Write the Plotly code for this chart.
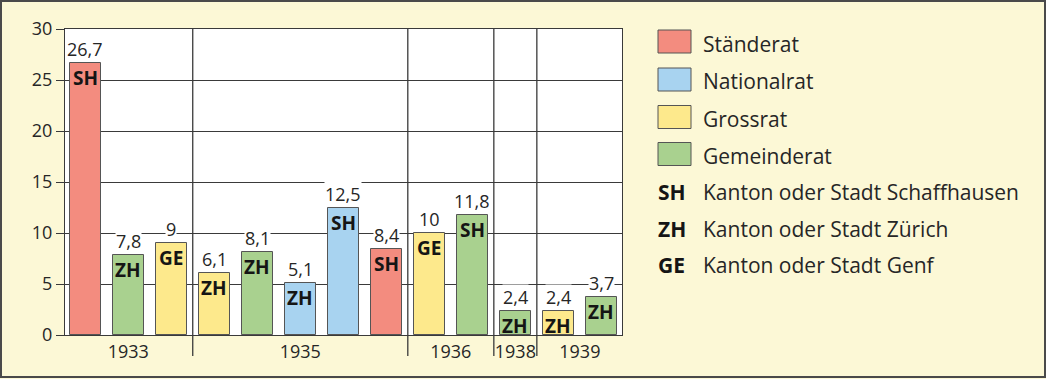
import plotly.graph_objects as go

# ---------------- data ----------------
years = ["1933", "1933", "1933",
         "1935", "1935", "1935", "1935", "1935",
         "1936", "1936",
         "1938",
         "1939", "1939"]
values = [26.7, 7.8, 9, 6.1, 8.1, 5.1, 12.5, 8.4, 10, 11.8, 2.4, 2.4, 3.7]
councils = ["Ständerat", "Gemeinderat", "Grossrat",
            "Grossrat", "Gemeinderat", "Nationalrat", "Nationalrat", "Ständerat",
            "Grossrat", "Gemeinderat",
            "Gemeinderat",
            "Grossrat", "Gemeinderat"]
codes = ["SH", "ZH", "GE", "ZH", "ZH", "ZH", "SH", "SH", "GE", "SH", "ZH", "ZH", "ZH"]

council_names = ["Ständerat", "Nationalrat", "Grossrat", "Gemeinderat"]
council_colors = ["#F38C7F", "#A8D3F0", "#FDE98C", "#A9D18F"]
region_codes = ["SH", "ZH", "GE"]
region_names = ["Kanton oder Stadt Schaffhausen", "Kanton oder Stadt Zürich",
                "Kanton oder Stadt Genf"]
y_ticks = [0, 5, 10, 15, 20, 25, 30]

# ---------------- layout constants ----------------
W, H = 1046, 379
L, R, T, B = 65, 622, 29, 335
FONT = "Open Sans"
DARK = "#262626"
GRID = "#3a3a3a"
CREAM = "#FCF8D6"

def px_x(px):
    return (px - L) / (R - L)

def px_y(py):
    return (B - py) / (B - T)

def fmt(v):
    return f"{v:g}".replace(".", ",")

color_of = dict(zip(council_names, council_colors))
idx = list(range(len(values)))

fig = go.Figure()
fig.add_trace(go.Bar(
    x=idx, y=values, width=0.72,
    marker=dict(color=[color_of[c] for c in councils],
                line=dict(color="#555555", width=1)),
    showlegend=False, hoverinfo="skip",
))

annotations = []
for i, v, c in zip(idx, values, codes):
    annotations.append(dict(x=i, y=v, xref="x", yref="y", text=fmt(v),
                            showarrow=False, yanchor="bottom", yshift=1,
                            bgcolor="white", borderpad=0,
                            font=dict(family=FONT, size=18, color=DARK)))
    annotations.append(dict(x=i, y=v, xref="x", yref="y", text=f"<b>{c}</b>",
                            showarrow=False, yanchor="top", yshift=0,
                            font=dict(family=FONT, size=19, color="#151515")))

# year groups -> separators and tick positions
groups = []
for i, yr in enumerate(years):
    if not groups or groups[-1][0] != yr:
        groups.append([yr, [i]])
    else:
        groups[-1][1].append(i)
tick_pos = [sum(g[1]) / len(g[1]) for g in groups]
tick_txt = [g[0] for g in groups]
shapes = []
for g in groups[1:]:
    xb = g[1][0] - 0.5
    shapes.append(dict(type="line", xref="x", yref="paper", x0=xb, x1=xb,
                       y0=px_y(356), y1=1, line=dict(color=GRID, width=1.3),
                       layer="above"))

# outer frame
shapes.append(dict(type="rect", xref="paper", yref="paper",
                   x0=px_x(1), x1=px_x(1045), y0=px_y(1), y1=px_y(377),
                   line=dict(color="#4a4a4a", width=2), layer="below"))

# legend
swatch_centers = [41.5, 79.5, 117, 154]
for cy, name, col in zip(swatch_centers, council_names, council_colors):
    shapes.append(dict(type="rect", xref="paper", yref="paper",
                       x0=px_x(658), x1=px_x(691), y0=px_y(cy - 11.5), y1=px_y(cy + 11.5),
                       fillcolor=col, line=dict(color="#555555", width=1)))
    annotations.append(dict(xref="paper", yref="paper", x=px_x(701), y=px_y(cy + 2),
                            text=name, showarrow=False, xanchor="left", yanchor="middle",
                            font=dict(family=FONT, size=21, color=DARK)))
row_centers = [192, 229, 265]
for cy, code, name in zip(row_centers, region_codes, region_names):
    annotations.append(dict(xref="paper", yref="paper", x=px_x(656), y=px_y(cy),
                            text=f"<b>{code}</b>", showarrow=False, xanchor="left",
                            yanchor="middle", font=dict(family=FONT, size=21, color="#151515")))
    annotations.append(dict(xref="paper", yref="paper", x=px_x(701), y=px_y(cy),
                            text=name, showarrow=False, xanchor="left", yanchor="middle",
                            font=dict(family=FONT, size=21, color=DARK)))

fig.update_layout(
    width=W, height=H,
    margin=dict(l=L, r=W - R, t=T, b=H - B, pad=0),
    paper_bgcolor=CREAM, plot_bgcolor="white",
    font=dict(family=FONT, size=18, color=DARK),
    bargap=0,
    xaxis=dict(range=[-0.47, len(values) - 0.52], tickvals=tick_pos, ticktext=tick_txt,
               showgrid=False, zeroline=False, showline=True, mirror=True,
               linecolor=GRID, linewidth=1.3, ticks="", fixedrange=True,
               tickfont=dict(family=FONT, size=18, color=DARK)),
    yaxis=dict(range=[0, 30], tickvals=y_ticks, showgrid=True, gridcolor=GRID,
               gridwidth=1.2, zeroline=False, showline=True, mirror=True,
               linecolor=GRID, linewidth=1.3, ticks="outside", ticklen=8,
               tickcolor=GRID, tickwidth=1.3, fixedrange=True,
               tickfont=dict(family=FONT, size=18, color=DARK)),
    shapes=shapes, annotations=annotations,
)

fig.write_html("out.html", config={"displayModeBar": False},
               post_script="document.body.style.margin='0';document.body.style.overflow='hidden';")
